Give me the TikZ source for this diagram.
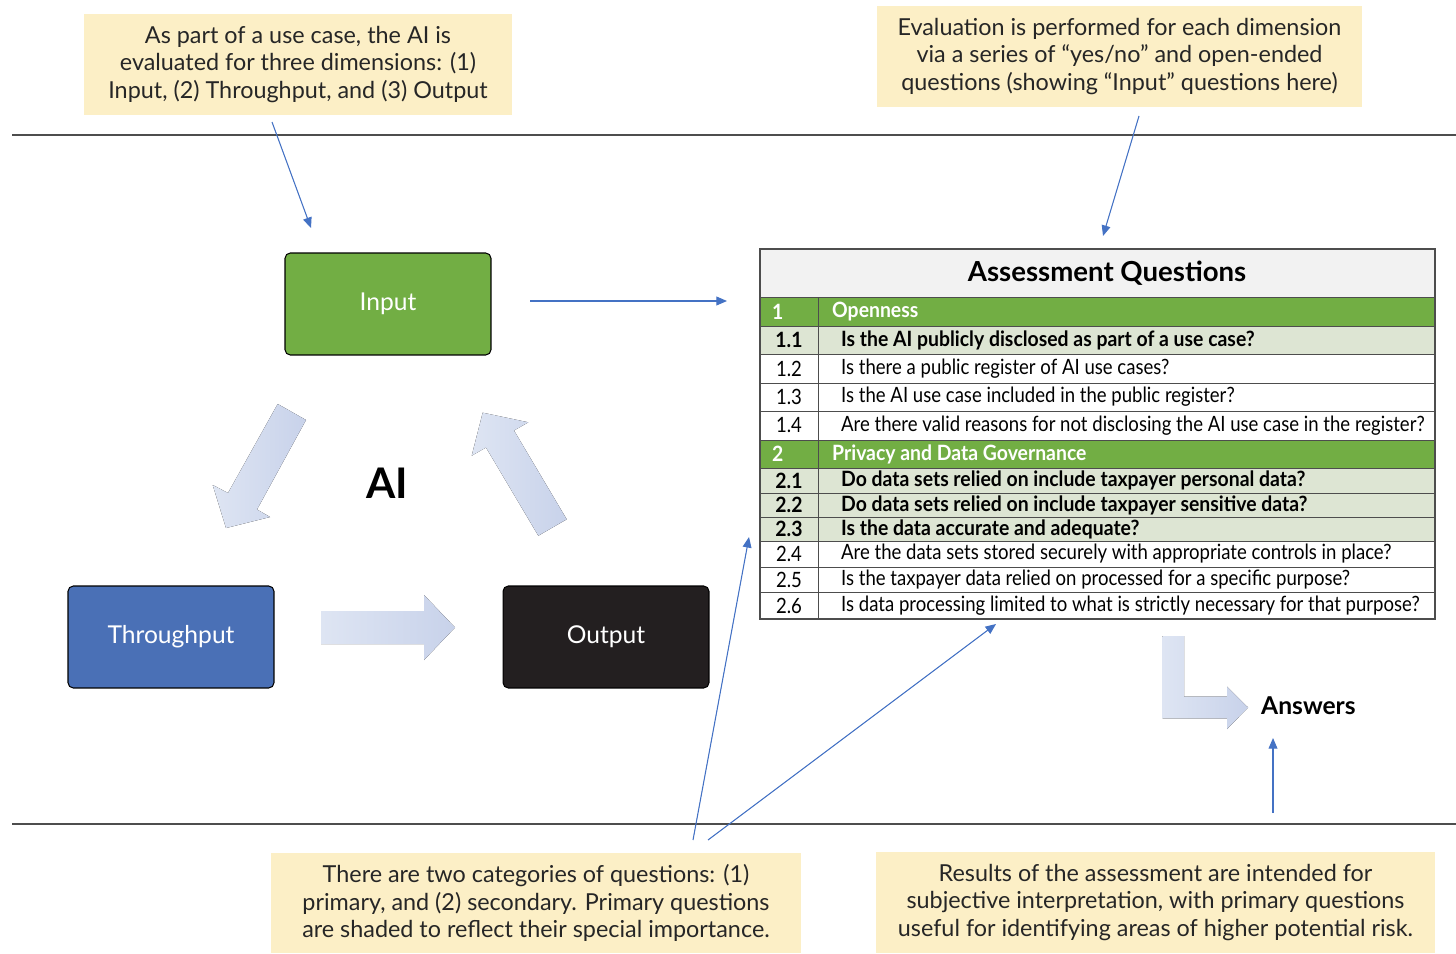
\documentclass[tikz,border=0pt]{standalone}
\usepackage{fontspec}
\setmainfont{Lato}
\newfontfamily\cnd[FakeStretch=0.88]{Lato}
\newfontfamily\cndb[FakeStretch=0.92]{Lato Bold}
\usetikzlibrary{arrows.meta,positioning}
\definecolor{notefill}{HTML}{FCEFC6}
\definecolor{lnk}{HTML}{4472C4}
\definecolor{grn}{HTML}{72AE44}
\definecolor{thr}{HTML}{4A70B6}
\definecolor{outp}{HTML}{231F20}
\definecolor{pale}{HTML}{DDE5D3}
\definecolor{hdr}{HTML}{F2F2F2}
\definecolor{arL}{HTML}{DEE5F3}
\definecolor{arR}{HTML}{C8D2EA}
\definecolor{rulec}{HTML}{4D4D4D}
\tikzset{>={Triangle[length=6pt,width=5pt]},
  note/.style={fill=notefill,minimum height=2.02cm,align=center,font=\fontsize{13.3}{15.6}\selectfont,text=black!85},
  dim/.style={draw=black,line width=.6pt,rounded corners=3pt,minimum width=4.12cm,minimum height=2.04cm,text=white,font=\fontsize{14}{16}\selectfont},
  link/.style={draw=lnk,line width=.6pt,->,fill=lnk},
  fat/.style={left color=arL,right color=arR,draw=none},
  cell/.style={draw=rulec,line width=.5pt},
  num/.style={font=\cnd\fontsize{12}{14}\selectfont},
  qtxt/.style={anchor=west,font=\cnd\fontsize{12}{14}\selectfont},
  bnum/.style={font=\cndb\fontsize{12}{14}\selectfont},
  bqtxt/.style={anchor=west,font=\cndb\fontsize{12}{14}\selectfont},
  sep/.style={draw=rulec,line width=.8pt}}
\begin{document}
\begin{tikzpicture}[x=0.02cm,y=-0.02cm]
\useasboundingbox (0,0) rectangle (1456,953);
\draw[sep] (12,135)--(1456,135);\draw[sep] (12,824)--(1456,824);
\node[note,minimum width=8.56cm] (c1) at (298,64.5) {As part of a use case, the AI is\\evaluated for three dimensions: (1)\\Input, (2) Throughput, and (3) Output};
\node[note,minimum width=9.7cm] (c2) at (1119.5,56.5) {Evaluation is performed for each dimension\\via a series of “yes/no” and open-ended\\questions (showing “Input” questions here)};
\node[note,minimum width=10.6cm,minimum height=2cm] (c3) at (536,903) {There are two categories of questions: (1)\\primary, and (2) secondary. Primary questions\\are shaded to reflect their special importance.};
\node[note,minimum width=11.18cm] (c4) at (1155.5,902.5) {Results of the assessment are intended for\\subjective interpretation, with primary questions\\useful for identifying areas of higher potential risk.};
\node[dim,fill=grn] (in) at (388,304) {Input};
\node[dim,fill=thr] (thru) at (171,637) {Throughput};
\node[dim,fill=outp] (out) at (606,637) {Output};
\node[font=\fontsize{24}{24}\selectfont\bfseries] (ai) at (387,483) {AI};
\fill[fat] (277.7,404)--(228,493)--(212.7,485)--(226,528)--(270,517)--(257,509.5)--(306,420)--cycle;
\fill[fat] (538.3,535.7)--(486,447.5)--(471.7,455.7)--(482.7,412.7)--(528.3,422.3)--(514,430.5)--(566.7,519.3)--cycle;
\fill[fat] (321,611)--(424,611)--(424,595)--(455,627.5)--(424,660)--(424,644)--(321,644)--cycle;
\fill[fat] (1162.7,636)--(1184,636)--(1184,696.7)--(1227,696.7)--(1227,686.7)--(1248,707.5)--(1227,729)--(1227,718.3)--(1162.7,718.3)--cycle;
\node[font=\fontsize{14}{16}\selectfont\bfseries,anchor=west] (ans) at (1255,706) {Answers};
% table
\draw[cell,fill=hdr] (760,249) rectangle (1435,297);
\node[font=\fontsize{15.7}{18}\selectfont\bfseries] (tq) at (1107,273) {Assessment Questions};
\foreach \nm/\t/\b/\n/\q in {h1/297/326/1/Openness,h2/440/468/2/Privacy and Data Governance}{
  \draw[cell,fill=grn] (760,\t) rectangle (1435,\b);
  \node[bnum,anchor=west,text=white] (\nm n) at (766,{(\t+\b)/2}) {\n};
  \node[bqtxt,text=white] (\nm) at (826,{(\t+\b)/2}) {\q};}
\foreach \nm/\t/\b/\n/\q in {q11/326/354/1.1/Is the AI publicly disclosed as part of a use case?,
  q21/468/493/2.1/Do data sets relied on include taxpayer personal data?,
  q22/493/517/2.2/Do data sets relied on include taxpayer sensitive data?,
  q23/517/541/2.3/Is the data accurate and adequate?}{
  \draw[cell,fill=pale] (760,\t) rectangle (1435,\b);
  \node[bnum] (\nm n) at (789,{(\t+\b)/2}) {\n};
  \node[bqtxt] (\nm) at (835,{(\t+\b)/2}) {\q};}
\foreach \nm/\t/\b/\n/\q in {q12/354/383/1.2/Is there a public register of AI use cases?,
  q13/383/411/1.3/Is the AI use case included in the public register?,
  q14/411/440/1.4/Are there valid reasons for not disclosing the AI use case in the register?,
  q24/541/567/2.4/Are the data sets stored securely with appropriate controls in place?,
  q25/567/592/2.5/Is the taxpayer data relied on processed for a specific purpose?,
  q26/592/619/2.6/Is data processing limited to what is strictly necessary for that purpose?}{
  \draw[cell,fill=white] (760,\t) rectangle (1435,\b);
  \node[num] (\nm n) at (789,{(\t+\b)/2}) {\n};
  \node[qtxt] (\nm) at (835,{(\t+\b)/2}) {\q};}
\draw[cell] (818,297)--(818,619);
\draw[cell,line width=.7pt] (760,249) rectangle (1435,619);
% connectors
\coordinate (a1) at (272,122);\coordinate (a2) at (311,228);
\coordinate (b1) at (1139,116);\coordinate (b2) at (1103,236);
\coordinate (i1) at (530,301);\coordinate (i2) at (727,301);
\coordinate (d0) at (693,840);\coordinate (d1) at (749,537);
\coordinate (e0) at (708,840);\coordinate (e1) at (996,624);
\coordinate (f0) at (1273,813);\coordinate (f1) at (1273,738);
\draw[link] (a1)--(a2);\draw[link] (b1)--(b2);\draw[link] (i1)--(i2);
\draw[link] (d0)--(d1);\draw[link] (e0)--(e1);\draw[link] (f0)--(f1);
\end{tikzpicture}
\end{document}
